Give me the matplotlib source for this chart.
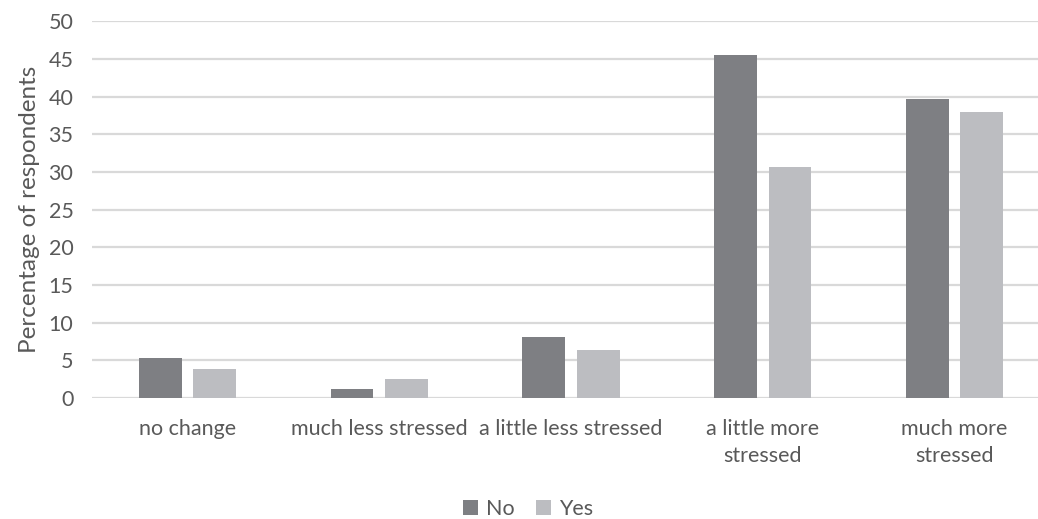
import matplotlib.pyplot as plt
import numpy as np

# Survey answers
categories = ['no change', 'much less stressed', 'a little less stressed',
              'a little more\nstressed', 'much more\nstressed']
no_values = [5.27, 1.24, 8.14, 45.5, 39.65]
yes_values = [3.85, 2.52, 6.37, 30.7, 37.92]

plt.rcParams['font.family'] = ['Lato', 'DejaVu Sans']
text_color = '#595959'
fs = 15.5

fig = plt.figure(figsize=(10.38, 5.19), dpi=100)
# axes runs past the right edge, as in the cropped original
ax = fig.add_axes([91.5 / 1038, 1 - 398 / 519, 959 / 1038, 376.5 / 519])

x = np.arange(len(categories))
width = 0.223
offset = 0.1415
ax.bar(x - offset, no_values, width, color='#7E7F83', label='No', zorder=3)
ax.bar(x + offset, yes_values, width, color='#BCBDC1', label='Yes', zorder=3)

ax.set_xlim(-0.5, len(categories) - 0.5)
ax.set_ylim(0, 50)
ax.set_yticks(range(0, 51, 5))
ax.set_xticks(x)
ax.set_xticklabels(categories, linespacing=1.45)

ax.grid(axis='y', color='#D9D9D9', linewidth=1.6, zorder=0)
for side in ['top', 'right', 'left', 'bottom']:
    ax.spines[side].set_visible(False)
ax.tick_params(axis='both', length=0, labelsize=fs, colors=text_color)
ax.tick_params(axis='x', pad=15)
ax.tick_params(axis='y', pad=13)

ax.set_ylabel('Percentage of respondents', fontsize=17.5, color=text_color, labelpad=6)

fig.legend(loc='center', bbox_to_anchor=(528 / 1038, 1 - 509 / 519), ncol=2,
           frameon=False, fontsize=fs, labelcolor=text_color,
           handlelength=0.7, handleheight=0.7, handletextpad=0.35, columnspacing=1.0)

fig.savefig('out.png', dpi=100)
